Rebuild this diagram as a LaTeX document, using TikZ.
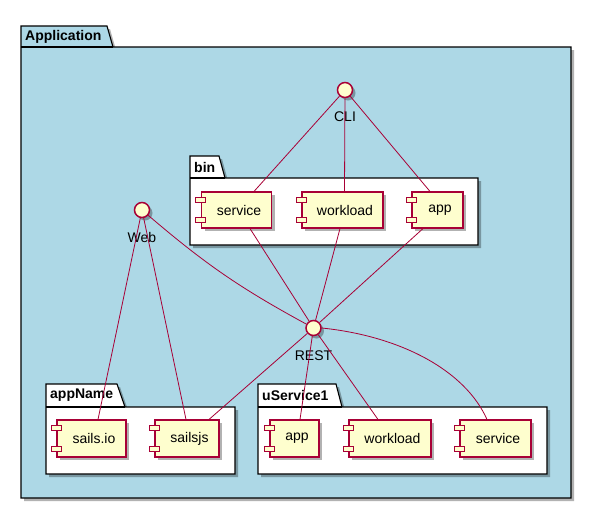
\documentclass[tikz,border=0pt]{standalone}
\usepackage{fontspec}
\setmainfont{Liberation Sans}
\usetikzlibrary{shadows,calc}
\definecolor{pred}{HTML}{A80036}
\definecolor{pfill}{HTML}{FEFECE}
\definecolor{pblue}{HTML}{ADD8E6}
\begin{document}
\begin{tikzpicture}[x=1pt,y=-1pt,
  shd/.style={drop shadow={shadow xshift=3pt,shadow yshift=-3pt,fill=black,opacity=0.3}},
  pkg/.style={draw=black,line width=1.1pt,shd},
  pkglabel/.style={anchor=west,inner sep=0pt,font=\fontsize{14}{16}\selectfont\bfseries},
  comp/.style={draw=pred,fill=pfill,line width=1.1pt,minimum height=36pt,inner sep=0pt,font=\fontsize{14}{16}\selectfont,shd},
  iface/.style={circle,draw=pred,fill=pfill,line width=1.5pt,minimum size=15pt,inner sep=0pt,shd},
  ilabel/.style={inner sep=0pt,font=\fontsize{14}{16}\selectfont},
  link/.style={draw=pred,line width=0.8pt},
  pin/.style={draw=pred,fill=pfill,line width=1pt}]
\useasboundingbox (0,0) rectangle (592,509);
% Application package
\path[pkg,fill=pblue] (21,47) -- (21,26) -- (107,26) -- (113,47) -- (571,47) -- (571,498) -- (21,498) -- cycle;
\draw[line width=1.1pt] (21,47) -- (113,47);
\node[pkglabel] (lapp) at (25,37) {Application};
% bin
\path[pkg,fill=white] (190,178) -- (190,156) -- (219,156) -- (225,178) -- (478,178) -- (478,245) -- (190,245) -- cycle;
\draw[line width=1.1pt] (190,178) -- (225,178);
\node[pkglabel] (lbin) at (194,167) {bin};
% appName
\path[pkg,fill=white] (46,407) -- (46,384) -- (117,384) -- (125,407) -- (235,407) -- (235,474) -- (46,474) -- cycle;
\draw[line width=1.1pt] (46,407) -- (125,407);
\node[pkglabel] (lappn) at (50,395.5) {appName};
% uService1
\path[pkg,fill=white] (258,407) -- (258,384) -- (336,384) -- (342,407) -- (547,407) -- (547,474) -- (258,474) -- cycle;
\draw[line width=1.1pt] (258,407) -- (342,407);
\node[pkglabel] (lus) at (262,395.5) {uService1};
% components
\node[comp,minimum width=70pt] (bsvc) at (236.5,210) {\hspace*{5pt}service};
\node[comp,minimum width=81pt] (bwork) at (342.5,210) {\hspace*{5pt}workload};
\node[comp,minimum width=51pt] (bapp) at (437.5,210) {\hspace*{5pt}app};
\node[comp,minimum width=69pt,minimum height=37pt] (sio) at (91.5,438.5) {\hspace*{5pt}sails.io};
\node[comp,minimum width=64pt,minimum height=37pt] (sjs) at (187,438.5) {\hspace*{5pt}sailsjs};
\node[comp,minimum width=49pt,minimum height=37pt] (uapp) at (294.5,438.5) {\hspace*{5pt}app};
\node[comp,minimum width=82pt,minimum height=37pt] (uwork) at (390,438.5) {\hspace*{5pt}workload};
\node[comp,minimum width=71pt,minimum height=37pt] (usvc) at (495.5,438.5) {\hspace*{5pt}service};
\foreach \n in {bsvc,bwork,bapp,sio,sjs,uapp,uwork,usvc}{
  \path[pin] ($(\n.north west)+(-5,6)$) rectangle ++(10,5);
  \path[pin] ($(\n.south west)+(-5,-11)$) rectangle ++(10,5);
}
% interfaces
\node[iface] (cli) at (345,90) {};
\node[ilabel] (lcli) at (345,117) {CLI};
\node[iface] (web) at (142,210) {};
\node[ilabel] (lweb) at (142,237) {Web};
\node[iface] (rest) at (313.5,328) {};
\node[ilabel] (lrest) at (313.5,356) {REST};
% links
\draw[link] (cli) -- ([xshift=17.5pt]bsvc.north);
\draw[link] (cli) -- ([xshift=2pt]bwork.north);
\draw[link] (cli) -- ([xshift=-7.5pt]bapp.north);
\draw[link] ([xshift=13.5pt]bsvc.south) -- (rest);
\draw[link] ([xshift=-2.5pt]bwork.south) -- (rest);
\draw[link] ([xshift=-14.5pt]bapp.south) -- (rest);
\draw[link] (web) -- ([xshift=6.5pt]sio.north);
\draw[link] (web) -- ([xshift=-1pt]sjs.north);
\draw[link] (web) to[bend right=6] (rest);
\draw[link] (rest) -- ([xshift=22pt]sjs.north);
\draw[link] (rest) -- ([xshift=5.5pt]uapp.north);
\draw[link] (rest) -- ([xshift=-12pt]uwork.north);
\draw[link] (rest.east) .. controls (400,336) and (465,370) .. ([xshift=-8.5pt]usvc.north);
\end{tikzpicture}
\end{document}
